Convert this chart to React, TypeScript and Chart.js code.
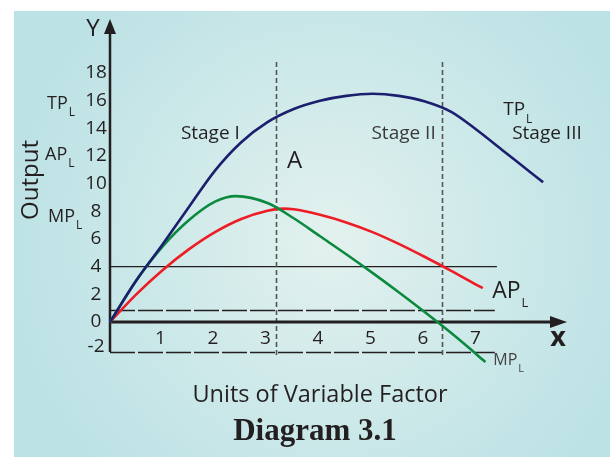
import React, { useEffect, useRef } from "react";
import { Chart, registerables } from "chart.js";
Chart.register(...registerables);

// ---- data (units of variable factor vs output) ----
const tpUnits = [0, 0.5, 1, 1.5, 2, 2.5, 3, 3.5, 4, 4.5, 5, 5.5, 6, 6.5, 7, 7.5, 8, 8.25];
const tpOutput = [0, 3.0, 5.6, 8.3, 10.95, 13.0, 14.45, 15.4, 16.0, 16.35, 16.5, 16.35, 15.95, 15.2, 13.85, 12.35, 10.85, 10.1];

const apUnits = [0, 0.5, 1, 1.5, 2, 2.5, 3, 3.3, 3.5, 4, 4.5, 5, 5.5, 6, 6.5, 7, 7.1];
const apOutput = [0, 2.0, 3.75, 5.25, 6.5, 7.45, 8.05, 8.2, 8.15, 7.75, 7.2, 6.5, 5.65, 4.7, 3.7, 2.65, 2.45];

const mpUnits = [0, 0.5, 1, 1.5, 2, 2.4, 3, 3.5, 4, 4.5, 5, 5.5, 6, 6.5, 7, 7.15];
const mpOutput = [0, 3.0, 5.45, 7.35, 8.7, 9.1, 8.6, 7.5, 6.2, 4.9, 3.55, 2.15, 0.7, -0.8, -2.4, -2.9];

const xTickLabels = [1, 2, 3, 4, 5, 6, 7];
const yTickLabels = [18, 16, 14, 12, 10, 8, 6, 4, 2, 0, -2];
const stageBoundaries = [3.16, 6.32];
const solidRefLevel = 4;
const brokenRefLevels = [0.87, -2.17];

const FONT = '"Open Sans", "Noto Sans", sans-serif';
const INK = "#231f20";

function subText(ctx: CanvasRenderingContext2D, main: string, sub: string, x: number, y: number, size: number, subSize: number, color = INK) {
  ctx.save();
  ctx.fillStyle = color;
  ctx.textAlign = "left";
  ctx.textBaseline = "middle";
  ctx.font = `${size}px ${FONT}`;
  ctx.fillText(main, x, y);
  const w = ctx.measureText(main).width;
  ctx.font = `${subSize}px ${FONT}`;
  ctx.fillText(sub, x + w + 1, y + size * 0.5);
  ctx.restore();
}

const decor = {
  id: "decor",
  beforeDraw(chart: any) {
    const ctx = chart.ctx as CanvasRenderingContext2D;
    const W = chart.width, H = chart.height;
    ctx.save();
    ctx.fillStyle = "#ffffff";
    ctx.fillRect(0, 0, W, H);
    const g = ctx.createRadialGradient(330, 240, 10, 330, 240, 320);
    g.addColorStop(0, "#e2f1ee");
    g.addColorStop(0.45, "#d0eaea");
    g.addColorStop(1, "#bde2e5");
    ctx.fillStyle = g;
    ctx.fillRect(14, 11, W - 14, H - 11);
    ctx.restore();
  },
  beforeDatasetsDraw(chart: any) {
    const ctx = chart.ctx as CanvasRenderingContext2D;
    const xs = chart.scales.x, ys = chart.scales.y;
    const x0 = xs.getPixelForValue(0);
    const y0 = ys.getPixelForValue(0);
    const xEnd = xs.getPixelForValue(7.37);
    ctx.save();
    // reference lines
    ctx.strokeStyle = INK;
    ctx.lineWidth = 1.2;
    ctx.beginPath();
    ctx.moveTo(x0, ys.getPixelForValue(solidRefLevel));
    ctx.lineTo(xEnd, ys.getPixelForValue(solidRefLevel));
    ctx.stroke();
    ctx.lineWidth = 1.5;
    ctx.setLineDash([25, 3]);
    brokenRefLevels.forEach((lv) => {
      const y = Math.round(ys.getPixelForValue(lv)) + 0.5;
      ctx.beginPath();
      ctx.moveTo(x0, y);
      ctx.lineTo(xs.getPixelForValue(7.33), y);
      ctx.stroke();
    });
    // stage boundaries
    ctx.strokeStyle = "#555555";
    ctx.lineWidth = 1.6;
    ctx.setLineDash([5, 3]);
    stageBoundaries.forEach((v) => {
      const x = Math.round(xs.getPixelForValue(v)) + 0.5;
      ctx.beginPath();
      ctx.moveTo(x, ys.getPixelForValue(18.8));
      ctx.lineTo(x, ys.getPixelForValue(-2.6));
      ctx.stroke();
    });
    ctx.setLineDash([]);
    // axes
    ctx.strokeStyle = INK;
    ctx.fillStyle = INK;
    ctx.lineWidth = 2.5;
    ctx.beginPath();
    ctx.moveTo(x0, ys.getPixelForValue(-2.17));
    ctx.lineTo(x0, 30);
    ctx.stroke();
    ctx.beginPath();
    ctx.moveTo(x0, 19);
    ctx.lineTo(x0 - 6, 34);
    ctx.lineTo(x0 + 6, 34);
    ctx.closePath();
    ctx.fill();
    ctx.lineWidth = 3;
    ctx.beginPath();
    ctx.moveTo(x0, y0);
    ctx.lineTo(553, y0);
    ctx.stroke();
    ctx.beginPath();
    ctx.moveTo(567, y0);
    ctx.lineTo(550, y0 - 6);
    ctx.lineTo(550, y0 + 6);
    ctx.closePath();
    ctx.fill();
    ctx.restore();
  },
  afterDatasetsDraw(chart: any) {
    const ctx = chart.ctx as CanvasRenderingContext2D;
    const xs = chart.scales.x, ys = chart.scales.y;
    const x0 = xs.getPixelForValue(0);
    ctx.save();
    ctx.fillStyle = INK;
    ctx.textBaseline = "middle";
    // y ticks
    ctx.font = `19px ${FONT}`;
    ctx.textAlign = "center";
    yTickLabels.forEach((v) => {
      ctx.fillText(String(v), x0 - 14, v === -2 ? ys.getPixelForValue(-1.8) : ys.getPixelForValue(v));
    });
    // x ticks
    xTickLabels.forEach((v) => {
      ctx.fillText(String(v), xs.getPixelForValue(v) - 2, ys.getPixelForValue(-1.2));
    });
    // axis letters
    ctx.font = `24px ${FONT}`;
    ctx.fillText("Y", 93, 29);
    ctx.font = `bold 27px ${FONT}`;
    ctx.fillText("x", 558, 338);
    // output label
    ctx.save();
    ctx.translate(31, 180);
    ctx.rotate(-Math.PI / 2);
    ctx.font = `24px ${FONT}`;
    ctx.fillText("Output", 0, 0);
    ctx.restore();
    // axis titles
    ctx.font = `23.5px ${FONT}`;
    ctx.fillText("Units of Variable Factor", 320, 395);
    ctx.font = `bold 31px "Liberation Serif", "DejaVu Serif", serif`;
    ctx.fillText("Diagram 3.1", 315, 432);
    // left labels
    subText(ctx, "TP", "L", 47, ys.getPixelForValue(15.8), 18, 12);
    subText(ctx, "AP", "L", 45, ys.getPixelForValue(12.1), 18, 12);
    subText(ctx, "MP", "L", 48, ys.getPixelForValue(7.6), 18, 12);
    // stage labels
    ctx.textAlign = "left";
    ctx.font = `19px ${FONT}`;
    ctx.fillStyle = INK;
    ctx.fillText("Stage I", xs.getPixelForValue(1.35), ys.getPixelForValue(13.6));
    ctx.fillStyle = "#3a3a3a";
    ctx.fillText("Stage II", xs.getPixelForValue(4.98), ys.getPixelForValue(13.6));
    ctx.fillStyle = INK;
    ctx.fillText("Stage III", xs.getPixelForValue(7.66), ys.getPixelForValue(13.6));
    ctx.font = `24px ${FONT}`;
    ctx.fillText("A", xs.getPixelForValue(3.37), ys.getPixelForValue(11.6));
    subText(ctx, "TP", "L", xs.getPixelForValue(7.49), ys.getPixelForValue(15.35), 19, 12);
    subText(ctx, "AP", "L", xs.getPixelForValue(7.28), ys.getPixelForValue(2.2), 23, 13);
    subText(ctx, "MP", "L", xs.getPixelForValue(7.3), ys.getPixelForValue(-2.8), 16, 11, "#444444");
    ctx.restore();
  },
};

export default function App() {
  const ref = useRef<HTMLCanvasElement | null>(null);
  useEffect(() => {
    if (!ref.current) return;
    const mk = (xs: number[], ys: number[]) => xs.map((x, i) => ({ x, y: ys[i] }));
    const common = { borderWidth: 2.6, pointRadius: 0, cubicInterpolationMode: "monotone" as const, fill: false };
    const chart = new Chart(ref.current, {
      type: "line",
      data: {
        datasets: [
          { label: "TP", data: mk(tpUnits, tpOutput), borderColor: "#1c1f6e", ...common },
          { label: "MP", data: mk(mpUnits, mpOutput), borderColor: "#0b8a3f", ...common },
          { label: "AP", data: mk(apUnits, apOutput), borderColor: "#ee1c25", ...common },
        ],
      },
      options: {
        animation: false,
        responsive: false,
        layout: { padding: { left: 110, right: 43, top: 24, bottom: 103 } },
        scales: {
          x: { type: "linear", display: false, min: 0, max: 457 / 52.5 },
          y: { type: "linear", display: false, min: -32 / 13.83, max: 298 / 13.83 },
        },
        plugins: { legend: { display: false }, tooltip: { enabled: false } },
        clip: false as any,
      },
      plugins: [decor],
    });
    return () => chart.destroy();
  }, []);
  return (
    <div style={{ position: "absolute", left: 0, top: 0, width: 610, height: 457 }}>
      <canvas ref={ref} width={610} height={457} style={{ display: "block" }} />
    </div>
  );
}
